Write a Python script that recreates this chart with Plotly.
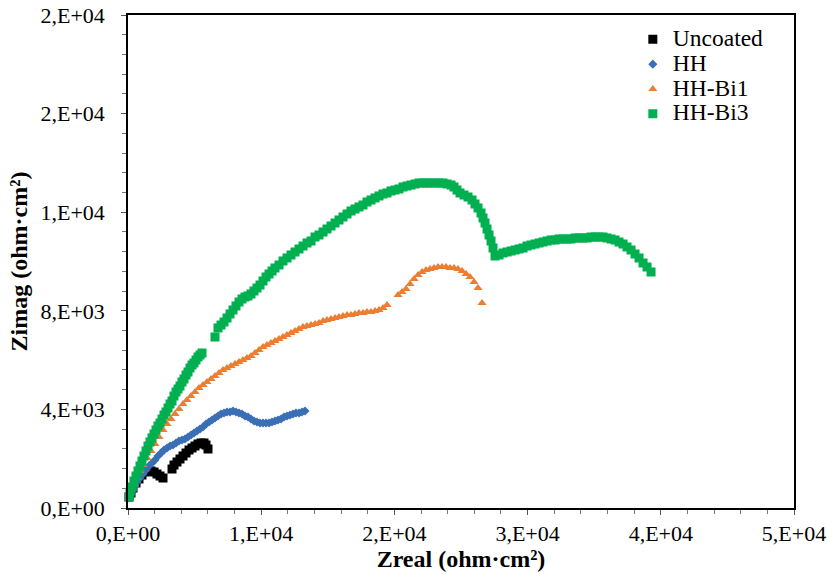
import plotly.graph_objects as go

# ---- data (ohm·cm²) ----
unc_x = [75, 225, 375, 601, 826, 1051, 1276, 1502, 1727, 1952, 2177, 2403, 2628,
         3304, 3454, 3679, 3904, 4129, 4355, 4580, 4805, 5030, 5256, 5481, 5706, 5856, 6006]
unc_y = [446, 609, 811, 1014, 1177, 1339, 1461, 1542, 1501, 1461, 1379, 1298, 1217,
         1582, 1745, 1866, 1988, 2110, 2231, 2353, 2434, 2515, 2596, 2637, 2637, 2556, 2394]

hh_x = [75, 225, 375, 526, 676, 901, 1126, 1351, 1577, 1802, 2027, 2252, 2478, 2703, 2928,
        3153, 3379, 3604, 3829, 4054, 4280, 4505, 4730, 4955, 5181, 5406, 5631, 5856, 6081,
        6307, 6532, 6757, 6982, 7208, 7433, 7658, 7883, 8109, 8334, 8559, 8784, 9010, 9235,
        9460, 9685, 9911, 10136, 10361, 10586, 10812, 11037, 11262, 11487, 11712, 11938,
        12163, 12388, 12613, 12839, 13064, 13289]
hh_y = [406, 568, 730, 893, 1055, 1217, 1379, 1542, 1704, 1826, 1947, 2110, 2231, 2353, 2434,
        2515, 2556, 2637, 2718, 2759, 2799, 2880, 2962, 3043, 3124, 3205, 3286, 3408, 3489,
        3570, 3651, 3732, 3814, 3854, 3895, 3895, 3935, 3895, 3854, 3814, 3732, 3692, 3611,
        3530, 3489, 3448, 3448, 3448, 3448, 3489, 3530, 3570, 3611, 3692, 3732,
        3773, 3814, 3854, 3854, 3895, 3935]

bi1_x = [75, 225, 450, 676, 901, 1126, 1427, 1727, 2027, 2328, 2628, 2928, 3228, 3529, 3829,
         4129, 4430, 4730, 5030, 5331, 5631, 5931, 6232, 6532, 6832, 7133, 7433, 7733, 8034,
         8334, 8634, 8935, 9235, 9535, 9835, 10136, 10436, 10736, 11037, 11337, 11637, 11938,
         12238, 12538, 12839, 13139, 13439, 13740, 14040, 14340, 14641, 14941, 15241, 15542,
         15842, 16142, 16443, 16743, 17043, 17343, 17644, 17944, 18244, 18545, 18845, 19145,
         19446, 20272, 20572, 20872, 21173, 21473, 21773, 22074, 22374, 22674, 22974, 23275,
         23575, 23875, 24176, 24476, 24776, 25077, 25377, 25677, 25978, 26278, 26578]
bi1_y = [487, 730, 974, 1217, 1501, 1745, 2029, 2312, 2596, 2880, 3164, 3408, 3611, 3814, 4016,
         4219, 4382, 4544, 4706, 4868, 4990, 5112, 5234, 5355, 5477, 5599, 5680, 5761, 5842,
         5923, 6004, 6086, 6167, 6288, 6410, 6532, 6613, 6694, 6775, 6856, 6937, 7019,
         7100, 7181, 7262, 7343, 7384, 7424, 7465, 7505, 7587, 7627, 7668, 7708,
         7749, 7789, 7830, 7830, 7871, 7911, 7911, 7952, 7952, 7992, 8033, 8114,
         8236, 8641, 8763, 8885, 9088, 9291, 9453, 9575, 9656, 9696, 9737, 9777,
         9777, 9777, 9737, 9737, 9696, 9615, 9493, 9372, 9169, 8925, 8317]

bi3_x = [100, 150, 300, 450, 601, 751, 901, 1051, 1201, 1351, 1502, 1652, 1802, 1952, 2102,
         2252, 2403, 2553, 2703, 2853, 3003, 3153, 3304, 3454, 3604, 3754, 3904, 4054, 4204,
         4355, 4505, 4655, 4805, 4955, 5105, 5256, 5406, 5556, 6532, 6757, 6982, 7208, 7433,
         7658, 7883, 8109, 8334, 8559, 8784, 9010, 9235, 9460, 9685, 9911, 10136, 10361,
         10586, 10812, 11037, 11337, 11637, 11938, 12238, 12538, 12839, 13139, 13439, 13740,
         14040, 14340, 14641, 14941, 15241, 15542, 15842, 16142, 16443, 16743, 17043, 17343,
         17644, 17944, 18244, 18545, 18845, 19145, 19446, 19746, 20046, 20347, 20647, 20947,
         21248, 21548, 21848, 22149, 22449, 22749, 23050, 23350, 23650, 23951, 24251, 24476,
         24701, 24927, 25227, 25527, 25828, 26053, 26278, 26503, 26653, 26804, 26954, 27104,
         27254, 27404, 27554, 27855, 28155, 28455, 28756, 29056, 29356, 29657, 29957, 30257,
         30558, 30858, 31158, 31459, 31759, 32059, 32359, 32660, 32960, 33260, 33561, 33861,
         34161, 34462, 34762, 35062, 35363, 35663, 35963, 36264, 36564, 36864, 37165, 37465,
         37765, 38066, 38366, 38666, 38966, 39267]
bi3_y = [460, 649, 852, 1095, 1298, 1501, 1704, 1907, 2110, 2312, 2515, 2678, 2840, 3002, 3164,
         3327, 3448, 3611, 3773, 3895, 4057, 4219, 4341, 4544, 4706, 4828, 4950, 5112, 5234,
         5396, 5518, 5680, 5802, 5883, 6004, 6126, 6207, 6288, 6937, 7303, 7424, 7546, 7708,
         7871, 8033, 8195, 8357, 8479, 8560, 8601, 8682, 8804, 8925, 9047, 9209, 9372,
         9493, 9615, 9737, 9859, 10021, 10143, 10264, 10386, 10508, 10629, 10751, 10832,
         10994, 11076, 11197, 11319, 11441, 11562, 11684, 11806, 11928, 12049, 12130, 12212,
         12293, 12414, 12496, 12577, 12658, 12739, 12780, 12861, 12901, 12942, 13023, 13064,
         13104, 13145, 13185, 13185, 13185, 13185, 13185, 13185, 13185, 13145, 13104, 13023,
         12901, 12780, 12698, 12617, 12496, 12333, 12171, 11968, 11765, 11562, 11319, 11076,
         10832, 10548, 10224, 10264, 10345, 10386, 10426, 10467, 10508, 10548, 10629, 10670,
         10710, 10751, 10792, 10832, 10873, 10873, 10913, 10913, 10913, 10913, 10954, 10954,
         10954, 10954, 10994, 10994, 10994, 10994, 10954, 10913, 10873, 10792, 10710, 10589,
         10467, 10305, 10143, 9940, 9777, 9575]

series_names = ["Uncoated", "HH", "HH-Bi1", "HH-Bi3"]

x_tickvals = [0, 10000, 20000, 30000, 40000, 50000]
x_ticktext = ["0,E+00", "1,E+04", "2,E+04", "3,E+04", "4,E+04", "5,E+04"]
y_tickvals = [0, 4000, 8000, 12000, 16000, 20000]
y_ticktext = ["0,E+00", "4,E+03", "8,E+03", "1,E+04", "2,E+04", "2,E+04"]

FONT = "Liberation Serif, Times New Roman, serif"


def legend_label(s):
    return '<span style="font-size:23.5px">' + s + '</span>'


fig = go.Figure()
fig.add_trace(go.Scatter(x=unc_x, y=unc_y, mode="markers", name=legend_label(series_names[0]),
                         cliponaxis=False,
                         marker=dict(symbol="square", size=9, color="#000000")))
fig.add_trace(go.Scatter(x=hh_x, y=hh_y, mode="markers", name=legend_label(series_names[1]),
                         cliponaxis=False,
                         marker=dict(symbol="diamond", size=7, color="#3a6fb5")))
fig.add_trace(go.Scatter(x=bi1_x, y=bi1_y, mode="markers", name=legend_label(series_names[2]),
                         cliponaxis=False,
                         marker=dict(symbol="triangle-up", size=8, color="#ed7d31")))
fig.add_trace(go.Scatter(x=bi3_x, y=bi3_y, mode="markers", name=legend_label(series_names[3]),
                         cliponaxis=False,
                         marker=dict(symbol="square", size=9, color="#00b050")))

axis_common = dict(showline=True, linecolor="#000000", linewidth=1.5, mirror=True,
                   showgrid=False, zeroline=False, ticks="outside", ticklen=5,
                   tickcolor="#555555", tickwidth=1, automargin=False,
                   ticklabeloverflow="allow",
                   tickfont=dict(family=FONT, size=22, color="#000000"))

fig.update_layout(
    width=827, height=574,
    margin=dict(l=128, r=33, t=15, b=66),
    paper_bgcolor="white", plot_bgcolor="white",
    font=dict(family=FONT, color="#000000"),
    showlegend=True,
    legend=dict(x=0.758, y=0.986, xanchor="left", yanchor="top",
                font=dict(family=FONT, size=16.8, color="#000000"),
                bgcolor="rgba(0,0,0,0)", tracegroupgap=0, itemwidth=30),
    xaxis=dict(range=[0, 50000], tickmode="array", tickvals=x_tickvals, ticktext=x_ticktext,
               minor=dict(dtick=2000, ticks="outside", ticklen=4, tickcolor="#777777"),
               ticklabelstandoff=0,
               title=dict(text="<b>Zreal (ohm·cm²)</b>", font=dict(family=FONT, size=24),
                          standoff=2),
               **axis_common),
    yaxis=dict(range=[0, 20000], tickmode="array", tickvals=y_tickvals, ticktext=y_ticktext,
               minor=dict(dtick=800, ticks="outside", ticklen=4, tickcolor="#777777"),
               ticklabelstandoff=12,
               title=dict(text="<b>Zimag (ohm·cm²)</b>", font=dict(family=FONT, size=24),
                          standoff=6),
               **axis_common),
)

# remove the default 8px page margin so the figure fills the 827x574 window exactly
fig.write_html("out.html", config={"displayModeBar": False},
               post_script="document.body.style.margin='0';")
